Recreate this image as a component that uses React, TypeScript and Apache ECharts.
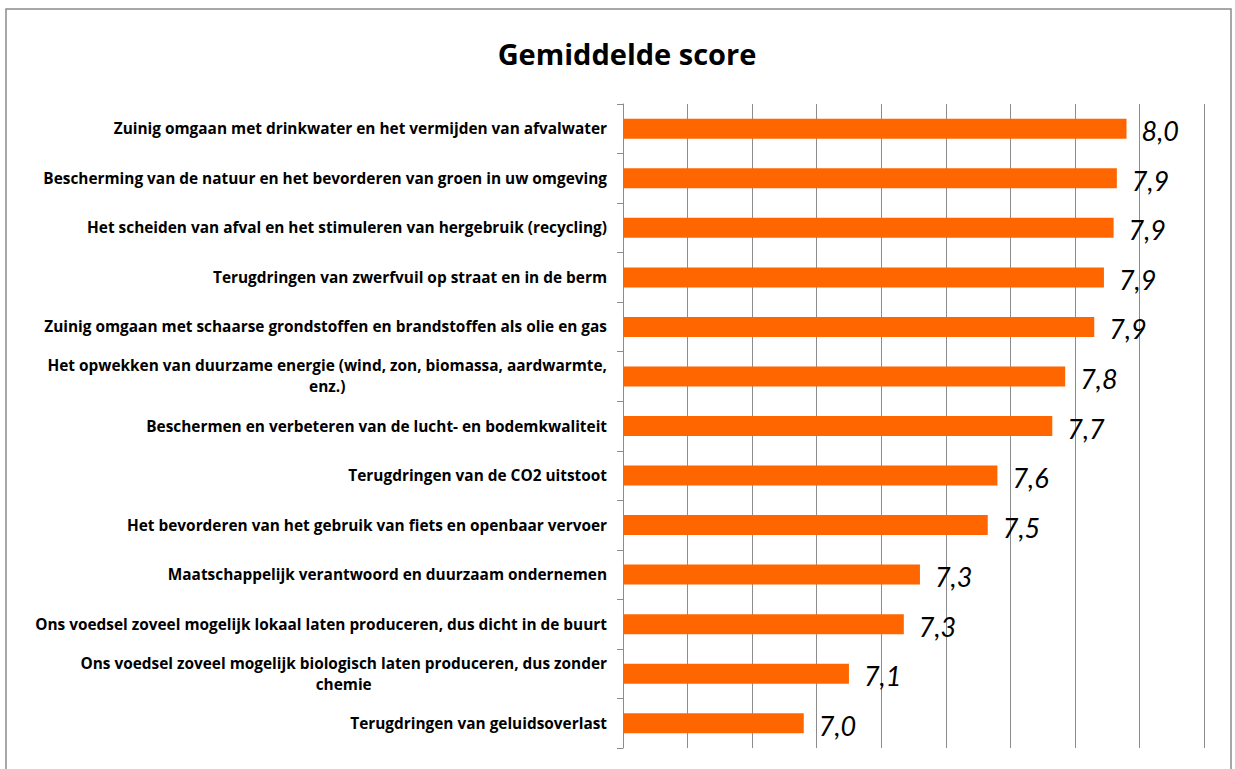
import React, { useEffect, useRef } from "react";
import * as echarts from "echarts";

const categories: string[] = [
  "Zuinig omgaan met drinkwater en het vermijden van afvalwater",
  "Bescherming van de natuur en het bevorderen van groen in uw omgeving",
  "Het scheiden van afval en het stimuleren van hergebruik (recycling)",
  "Terugdringen van zwerfvuil op straat en in de berm",
  "Zuinig omgaan met schaarse grondstoffen en brandstoffen als olie en gas",
  "Het opwekken van duurzame energie (wind, zon, biomassa, aardwarmte,\nenz.)",
  "Beschermen en verbeteren van de lucht- en bodemkwaliteit",
  "Terugdringen van de CO2 uitstoot",
  "Het bevorderen van het gebruik van fiets en openbaar vervoer",
  "Maatschappelijk verantwoord en duurzaam ondernemen",
  "Ons voedsel zoveel mogelijk lokaal laten produceren, dus dicht in de buurt",
  "Ons voedsel zoveel mogelijk biologisch laten produceren, dus zonder\nchemie",
  "Terugdringen van geluidsoverlast",
];

const scores: number[] = [7.96, 7.93, 7.92, 7.89, 7.86, 7.77, 7.73, 7.56, 7.53, 7.32, 7.27, 7.1, 6.96];

const axisMin = 6.4;
const axisMax = 8.2;
const axisStep = 0.2;

const title = "Gemiddelde score";

export default function App() {
  const ref = useRef<HTMLDivElement>(null);
  useEffect(() => {
    document.body.style.margin = "0";
    const chart = echarts.init(ref.current!, null, { renderer: "svg" });
    chart.setOption({
      animation: false,
      backgroundColor: "#ffffff",
      title: {
        text: title,
        left: 622,
        top: 34,
        textAlign: "center",
        textStyle: { fontFamily: "Open Sans", fontWeight: "bold", fontSize: 29, color: "#000" },
      },
      graphic: [
        {
          type: "rect",
          shape: { x: 6, y: 9, width: 1225, height: 800 },
          style: { fill: "none", stroke: "#8c8c8c", lineWidth: 1.5 },
          silent: true,
        },
      ],
      grid: { left: 623, right: 31, top: 104, bottom: 21, containLabel: false },
      xAxis: {
        type: "value",
        min: axisMin,
        max: axisMax,
        interval: axisStep,
        axisLabel: { show: false },
        axisLine: { show: false },
        axisTick: { show: false },
        splitLine: { show: true, lineStyle: { color: "#8c8c8c", width: 1 } },
      },
      yAxis: {
        type: "category",
        data: categories,
        inverse: true,
        axisLine: { show: true, lineStyle: { color: "#8c8c8c", width: 1 } },
        axisTick: { show: true, length: 6, lineStyle: { color: "#8c8c8c" } },
        axisLabel: {
          margin: 16,
          color: "#000",
          fontFamily: "Open Sans",
          fontWeight: "bold",
          fontSize: 15.4,
          lineHeight: 21,
          formatter: (v: string) =>
            v
              .split("\n")
              .map((l) => "{c|" + l + "}")
              .join("\n"),
          rich: {
            c: {
              align: "center",
              color: "#000",
              fontFamily: "Open Sans",
              fontWeight: "bold",
              fontSize: 15.4,
              lineHeight: 21,
            },
          },
        },
      },
      series: [
        {
          type: "bar",
          data: scores,
          barWidth: 20,
          itemStyle: { color: "#FF6600" },
          label: {
            show: true,
            position: "right",
            distance: 15,
            offset: [0, 2],
            fontFamily: "Lato",
            fontStyle: "italic",
            fontSize: 27,
            color: "#000",
            formatter: (p: any) => p.value.toFixed(1).replace(".", ","),
          },
        },
      ],
    });
    return () => chart.dispose();
  }, []);
  return <div ref={ref} style={{ width: 1235, height: 769, position: "absolute", left: 0, top: 0 }} />;
}
